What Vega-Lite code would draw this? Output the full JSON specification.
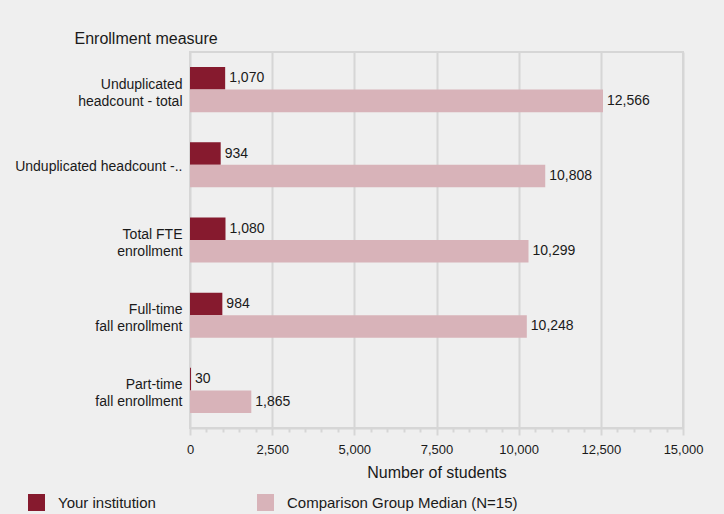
{
  "$schema": "https://vega.github.io/schema/vega-lite/v6.json",
  "width": 493,
  "height": 376,
  "autosize": {"type": "none"},
  "padding": {"left": 190, "top": 52, "right": 41, "bottom": 86},
  "background": "#efefef",
  "config": {
    "font": "Liberation Sans",
    "view": {"stroke": "#d6d6d6", "strokeWidth": 2, "fill": "#efefef"}
  },
  "data": {
    "values": [
      {"measure": "Unduplicated|headcount - total", "series": "Your institution", "value": 1070, "label": "1,070"},
      {"measure": "Unduplicated|headcount - total", "series": "Comparison Group Median (N=15)", "value": 12566, "label": "12,566"},
      {"measure": "Unduplicated headcount -..", "series": "Your institution", "value": 934, "label": "934"},
      {"measure": "Unduplicated headcount -..", "series": "Comparison Group Median (N=15)", "value": 10808, "label": "10,808"},
      {"measure": "Total FTE|enrollment", "series": "Your institution", "value": 1080, "label": "1,080"},
      {"measure": "Total FTE|enrollment", "series": "Comparison Group Median (N=15)", "value": 10299, "label": "10,299"},
      {"measure": "Full-time|fall enrollment", "series": "Your institution", "value": 984, "label": "984"},
      {"measure": "Full-time|fall enrollment", "series": "Comparison Group Median (N=15)", "value": 10248, "label": "10,248"},
      {"measure": "Part-time|fall enrollment", "series": "Your institution", "value": 30, "label": "30"},
      {"measure": "Part-time|fall enrollment", "series": "Comparison Group Median (N=15)", "value": 1865, "label": "1,865"}
    ]
  },
  "encoding": {
    "y": {
      "field": "measure",
      "type": "nominal",
      "sort": null,
      "scale": {"paddingInner": 0.4, "paddingOuter": 0.2},
      "axis": {
        "title": "Enrollment measure",
        "titleAngle": 0,
        "titleAlign": "left",
        "titleBaseline": "middle",
        "titleX": -116,
        "titleY": -14,
        "titleFontSize": 16,
        "titleFontWeight": "normal",
        "titleColor": "#1a1a1a",
        "labelExpr": "split(datum.label, '|')",
        "labelFontSize": 14,
        "labelLineHeight": 17,
        "labelColor": "#1a1a1a",
        "labelPadding": 8,
        "labelOffset": {"condition": {"test": "indexof(datum.value, '|') >= 0", "value": -5}, "value": 2},
        "labelLimit": 300,
        "ticks": false,
        "domain": false
      }
    },
    "yOffset": {
      "field": "series",
      "type": "nominal",
      "sort": ["Your institution", "Comparison Group Median (N=15)"],
      "scale": {"paddingInner": 0, "paddingOuter": 0}
    },
    "x": {
      "field": "value",
      "type": "quantitative",
      "scale": {"domain": [0, 15000], "nice": false},
      "axis": {
        "title": "Number of students",
        "titleFontSize": 16,
        "titleFontWeight": "normal",
        "titleColor": "#1a1a1a",
        "titlePadding": 8,
        "values": [0, 500, 1000, 1500, 2000, 2500, 3000, 3500, 4000, 4500, 5000, 5500, 6000, 6500, 7000, 7500, 8000, 8500, 9000, 9500, 10000, 10500, 11000, 11500, 12000, 12500, 13000, 13500, 14000, 14500, 15000],
        "labelExpr": "datum.value % 2500 === 0 ? format(datum.value, ',d') : ''",
        "labelOverlap": false,
        "labelFontSize": 13,
        "labelColor": "#1a1a1a",
        "labelPadding": 8,
        "labelFlush": false,
        "grid": true,
        "gridColor": "#d6d6d6",
        "gridWidth": 2,
        "gridOpacity": {"condition": {"test": "datum.value % 2500 === 0", "value": 1}, "value": 0},
        "tickColor": "#d6d6d6",
        "tickWidth": 2,
        "tickSize": {"condition": {"test": "datum.value % 2500 === 0", "value": 7}, "value": 4},
        "domainColor": "#d6d6d6",
        "domainWidth": 2
      }
    }
  },
  "layer": [
    {
      "mark": {"type": "bar"},
      "encoding": {
        "color": {
          "field": "series",
          "type": "nominal",
          "sort": ["Your institution", "Comparison Group Median (N=15)"],
          "scale": {"domain": ["Your institution", "Comparison Group Median (N=15)"], "range": ["#861a2e", "#d8b3b9"]},
          "legend": {
            "title": null,
            "orient": "none",
            "legendX": -162,
            "legendY": 442,
            "direction": "horizontal",
            "columns": 2,
            "columnPadding": 101,
            "padding": 0,
            "symbolType": "square",
            "symbolSize": 289,
            "symbolStrokeWidth": 0,
            "symbolOpacity": 1,
            "labelFontSize": 15,
            "labelColor": "#1a1a1a",
            "labelOffset": 13,
            "labelLimit": 400
          }
        }
      }
    },
    {
      "mark": {"type": "text", "align": "left", "baseline": "middle", "dx": 4, "fontSize": 14, "color": "#1a1a1a"},
      "encoding": {
        "text": {"field": "label", "type": "nominal"}
      }
    }
  ]
}
